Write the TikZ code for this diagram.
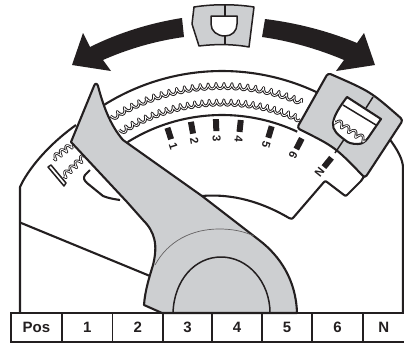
\documentclass[tikz,border=0pt]{standalone}
\usepackage{fontspec}
\setmainfont{Liberation Sans}
\definecolor{ink}{HTML}{231F20}
\definecolor{leverfill}{HTML}{CDCFD1}
\newcommand{\polarpath}[3]{plot[domain=#2:#3,samples=60,smooth] ({222+#1*sin(\x)},{293-#1*cos(\x)})}
\newcommand{\ropearc}[3]{%
  \draw[ink,line width=2.8pt,line join=round] plot[domain=#2:#3,samples=240,smooth] ({222+(#1+2.7*sin(165*\x))*sin(\x+0.35*cos(165*\x))},{293-(#1+2.7*sin(165*\x))*cos(\x+0.35*cos(165*\x))});
  \draw[white,line width=0.8pt,line join=round] plot[domain=#2:#3,samples=240,smooth] ({222+(#1+2.7*sin(165*\x))*sin(\x+0.35*cos(165*\x))},{293-(#1+2.7*sin(165*\x))*cos(\x+0.35*cos(165*\x))});
}
\newcommand{\ropeline}[5]{%
  \pgfmathsetmacro{\rdx}{#3-#1}\pgfmathsetmacro{\rdy}{#4-#2}\pgfmathsetmacro{\rlen}{veclen(\rdx,\rdy)}
  \draw[ink,line width=2.6pt,line join=round] plot[domain=0:1,samples=90,smooth] ({#1+\rdx*(\x+0.8/\rlen*cos(#5*360*\x))-\rdy/\rlen*2.7*sin(#5*360*\x)},{#2+\rdy*(\x+0.8/\rlen*cos(#5*360*\x))+\rdx/\rlen*2.7*sin(#5*360*\x)});
  \draw[white,line width=0.8pt,line join=round] plot[domain=0:1,samples=90,smooth] ({#1+\rdx*(\x+0.8/\rlen*cos(#5*360*\x))-\rdy/\rlen*2.7*sin(#5*360*\x)},{#2+\rdy*(\x+0.8/\rlen*cos(#5*360*\x))+\rdx/\rlen*2.7*sin(#5*360*\x)});
}
\tikzset{
  heavy/.style={ink,line width=2.1pt,line join=round},
  medium/.style={ink,line width=1.5pt,line join=round},
  thinarc/.style={ink!70,line width=0.7pt},
  cell/.style={draw=ink,line width=1.9pt,minimum height=29pt,inner sep=0pt,anchor=west,text=ink,font=\fontsize{15}{17}\selectfont\bfseries},
  ticklabel/.style={text=ink,inner sep=0pt,font=\fontsize{11.5}{13}\selectfont\bfseries},
}
\begin{document}
\begin{tikzpicture}[x=1pt,y=-1pt]
\useasboundingbox (0,0) rectangle (404,343);
% arrows
\fill[ink] (182,18) .. controls (150,23) and (118,33) .. (90,47) -- (83,33) -- (72,65) -- (111,71) -- (103,60) .. controls (128,49) and (155,41) .. (184,37) -- cycle;
\fill[ink] (265,19) .. controls (297,23) and (328,31) .. (357,43) -- (364,33) -- (375,65) -- (336,71) -- (344,60) .. controls (318,49) and (290,41) .. (262,37) -- cycle;
% small top slider
\draw[medium,fill=leverfill] (194,7) .. controls (213,4) and (235,4) .. (254,7) -- (249,47) .. controls (233,44) and (215,44) .. (199,46) -- (192,24) -- cycle;
\draw[medium,fill=white] (211,16) -- (237,16) -- (237,24) .. controls (237,31) and (232,36) .. (225,36) .. controls (217,36) and (211,31) .. (211,24) -- cycle;
\draw[medium] (225,5) -- (225,16) (225,36) -- (225,44);
% body outline
\draw[heavy] (20,313) -- (20,187) -- (23,181) .. controls (35,160) and (55,140) .. (76,125);
\draw[heavy] (403,313) -- (403,168) .. controls (403,160) and (398,150) .. (388,137);
\draw[heavy] (20,222.5) -- (150,276);
\draw[heavy] (202,196) .. controls (225,194) and (255,198) .. (289,218) .. controls (291,219) and (292,219) .. (293,218) -- (324,182) .. controls (325,181) and (326,181) .. (327,182) -- (344,195) .. controls (345,196) and (346,196) .. (347,195) -- (361,181) -- (367,172);
% notch
\draw[heavy] (90,170) -- (85,175) .. controls (83,178) and (84,180) .. (87,183) -- (103,196) .. controls (108,198) and (113,199) .. (120,200);
% track
\draw[heavy] \polarpath{222}{-32}{28};
\draw[heavy] \polarpath{178}{-32}{25};
% ropes
\ropearc{207}{-32}{23}
\ropearc{190.5}{-32}{24}
% ticks
\foreach \a in {-18.3,-10.3,-2,6.2,16.6,27.3,39}
  \fill[ink,rotate around={-\a:(222,293)}] (219,119) rectangle (225,131);
% tick labels
\foreach \a/\t/\nm in {-18.3/1/one,-10.3/2/two,-2/3/three,6.2/4/four,16.6/5/five,27.3/6/six,39/N/en}
  \node[ticklabel,rotate={-90-\a}] (tick\nm) at ({222+155*sin(\a)},{293-155*cos(\a)}) {\t};
% left ropes and bar
\ropeline{53}{159}{72}{145}{3.5}
\ropeline{63}{177}{84}{157}{4}
\draw[medium,fill=white] (48,167) -- (51,165) -- (66,183) -- (64,186) -- cycle;
% lever
\draw[heavy,fill=leverfill] (94,86) .. controls (95,83) and (97,83) .. (98,86) .. controls (103,105) and (110,125) .. (123,140) -- (202,196) -- (259,240) .. controls (280,256) and (296,280) .. (297,313) -- (162,313) -- (144,305) .. controls (145,290) and (150,275) .. (153,265) .. controls (158,245) and (155,232) .. (143,220) -- (127,202) -- (71,142) -- cycle;
\draw[thinarc] (155,265) .. controls (168,241) and (192,229) .. (219,229) .. controls (232,229) and (243,231) .. (254,236);
\draw[medium] (173,313) .. controls (174,280) and (195,257) .. (221,257) .. controls (248,257) and (270,282) .. (270,313);
% big slider
\draw[heavy,fill=leverfill,rounded corners=3pt] (328,73) .. controls (370.5,91.5) .. (403,120) -- (365,178) .. controls (335,147) .. (297,128) -- cycle;
\draw[medium] (373,97) -- (366,108) (345,138) -- (335,153);
\draw[heavy,fill=white] (347,97) -- (381,119) -- (368,138) .. controls (365,142) and (362,144) .. (358,144) .. controls (352,144) and (348,143) .. (345,140) .. controls (338,135) and (332,130) .. (333,123) .. controls (334,118) and (335,113) .. (347,97) -- cycle;
\begin{scope}
\clip (347,97) -- (381,119) -- (368,138) .. controls (365,142) and (362,144) .. (358,144) .. controls (352,144) and (348,143) .. (345,140) .. controls (338,135) and (332,130) .. (333,123) .. controls (334,118) and (335,113) .. (347,97) -- cycle;
\ropeline{334}{120}{366}{141}{4.5}
\end{scope}
\draw[medium] (343,105) -- (376,125);
% table
\foreach \xa/\w/\t/\nm in {10/51/Pos/pos,61/50.5/1/c1,111.5/50.5/2/c2,162/49/3/c3,211/50/4/c4,261/50/5/c5,311/51/6/c6,362/41.5/N/cn}
  \node[cell,minimum width=\w pt] (\nm) at (\xa,327.5) {\t};
\end{tikzpicture}
\end{document}
